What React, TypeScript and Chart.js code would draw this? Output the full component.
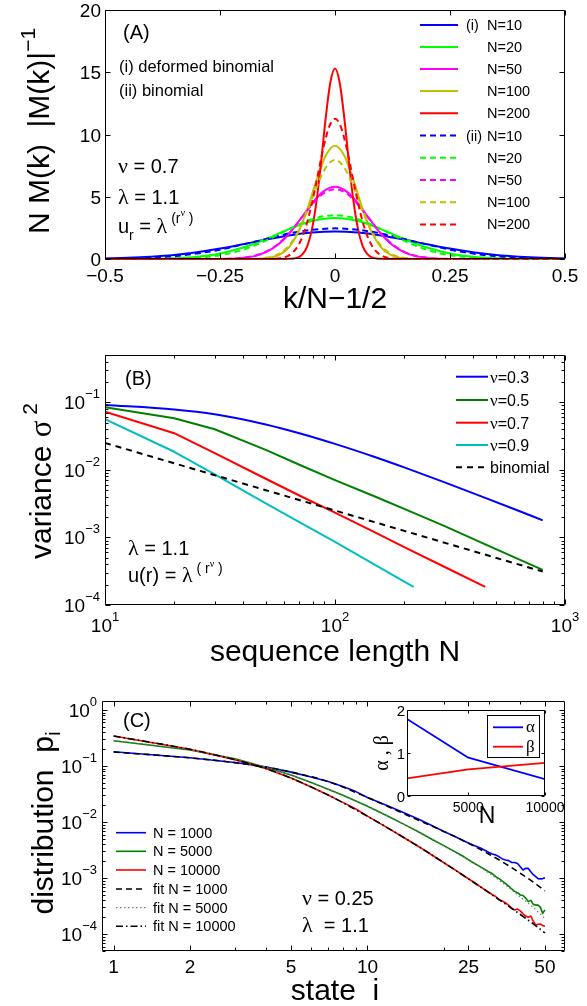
import React, { useEffect, useRef } from "react";
import { Chart, registerables } from "chart.js";

Chart.register(...registerables);

const SANS = '"Liberation Sans", Arial, Helvetica, sans-serif';
const SERIF = '"Liberation Serif", "Times New Roman", serif';
const PAGE_W = 587;
const PAGE_H = 1006;

/* ================= Panel A : N M(k)|M(k)|^-1 vs k/N-1/2 ================= */
const xA_wide = [-0.5, -0.45, -0.4, -0.35, -0.3, -0.25, -0.2, -0.15, -0.1, -0.05, 0, 0.05, 0.1, 0.15, 0.2, 0.25, 0.3, 0.35, 0.4, 0.45, 0.5];
const xA_mid = [-0.5, -0.25, -0.225, -0.2, -0.175, -0.15, -0.125, -0.1, -0.075, -0.05, -0.025, 0, 0.025, 0.05, 0.075, 0.1, 0.125, 0.15, 0.175, 0.2, 0.225, 0.25, 0.5];
const xA_narrow = [-0.5, -0.2, -0.18, -0.16, -0.14, -0.12, -0.1, -0.08, -0.06, -0.04, -0.02, 0, 0.02, 0.04, 0.06, 0.08, 0.1, 0.12, 0.14, 0.16, 0.18, 0.2, 0.5];
const xA_peak = [-0.5, -0.15, -0.14, -0.13, -0.12, -0.11, -0.1, -0.09, -0.08, -0.07, -0.06, -0.05, -0.04, -0.03, -0.02, -0.01, 0, 0.01, 0.02, 0.03, 0.04, 0.05, 0.06, 0.07, 0.08, 0.09, 0.1, 0.11, 0.12, 0.13, 0.14, 0.15, 0.5];

const defA10 = [0.05, 0.1, 0.19, 0.33, 0.55, 0.84, 1.19, 1.56, 1.89, 2.12, 2.2, 2.12, 1.89, 1.56, 1.19, 0.84, 0.55, 0.33, 0.19, 0.1, 0.05];
const defA20 = [0.001, 0.005, 0.02, 0.07, 0.19, 0.45, 0.92, 1.61, 2.4, 3.05, 3.3, 3.05, 2.4, 1.61, 0.92, 0.45, 0.19, 0.07, 0.02, 0.005, 0.001];
const defA50 = [0, 0.01, 0.03, 0.09, 0.23, 0.55, 1.12, 2.03, 3.21, 4.46, 5.43, 5.8, 5.43, 4.46, 3.21, 2.03, 1.12, 0.55, 0.23, 0.09, 0.03, 0.01, 0];
const defA100 = [0, 0.001, 0.007, 0.03, 0.11, 0.35, 0.94, 2.14, 4.03, 6.33, 8.31, 9.1, 8.31, 6.33, 4.03, 2.14, 0.94, 0.35, 0.11, 0.03, 0.007, 0.001, 0];
const defA200 = [0, 0, 0, 0, 0, 0.002, 0.01, 0.04, 0.13, 0.41, 1.06, 2.4, 4.68, 7.86, 11.4, 14.2, 15.3, 14.2, 11.4, 7.86, 4.68, 2.4, 1.06, 0.41, 0.13, 0.04, 0.01, 0.002, 0, 0, 0, 0, 0];

const binA10 = [0.01, 0.04, 0.1, 0.22, 0.44, 0.75, 1.17, 1.6, 2.05, 2.34, 2.46, 2.34, 2.05, 1.6, 1.17, 0.75, 0.44, 0.22, 0.1, 0.04, 0.01];
const binA20 = [0, 0, 0.004, 0.022, 0.092, 0.3, 0.74, 1.48, 2.4, 3.2, 3.52, 3.2, 2.4, 1.48, 0.74, 0.3, 0.092, 0.022, 0.004, 0, 0];
const binA50 = [0, 0.01, 0.035, 0.1, 0.26, 0.59, 1.17, 2.06, 3.2, 4.37, 5.27, 5.61, 5.27, 4.37, 3.2, 2.06, 1.17, 0.59, 0.26, 0.1, 0.035, 0.01, 0];
const binA100 = [0, 0.003, 0.012, 0.047, 0.16, 0.45, 1.08, 2.21, 3.88, 5.78, 7.35, 7.96, 7.35, 5.78, 3.88, 2.21, 1.08, 0.45, 0.16, 0.047, 0.012, 0.003, 0];
const binA200 = [0, 0.003, 0.009, 0.02, 0.06, 0.135, 0.29, 0.59, 1.09, 1.88, 3.02, 4.52, 6.27, 8.11, 9.73, 10.86, 11.26, 10.86, 9.73, 8.11, 6.27, 4.52, 3.02, 1.88, 1.09, 0.59, 0.29, 0.135, 0.06, 0.02, 0.009, 0.003, 0];

const legendA = ["N=10", "N=20", "N=50", "N=100", "N=200", "N=10", "N=20", "N=50", "N=100", "N=200"];
const colorsA = ["#0000ff", "#00ff00", "#ff00ff", "#bfbf00", "#ff0000"];
const ticksAx = [-0.5, -0.25, 0, 0.25, 0.5];
const labelsAx = ["\u22120.5", "\u22120.25", "0", "0.25", "0.5"];
const ticksAy = [0, 5, 10, 15, 20];
const labelsAy = ["0", "5", "10", "15", "20"];

/* ================= Panel B : variance vs sequence length ================= */
const nB_long = [10, 20, 30, 50, 70, 100, 150, 200, 300, 450, 600, 800];
const varNu03 = [0.091, 0.0782, 0.0665, 0.047, 0.0348, 0.0242, 0.01535, 0.01086, 0.00652, 0.00385, 0.00263, 0.00179];
const varNu05 = [0.0843, 0.0579, 0.0398, 0.0197, 0.0119, 0.00706, 0.00399, 0.00265, 0.00147, 0.00079, 0.00051, 0.00033];
const nB_nu07 = [10, 20, 30, 50, 70, 100, 150, 200, 300, 450];
const varNu07 = [0.0726, 0.0348, 0.0177, 0.00738, 0.00417, 0.00232, 0.00118, 0.000718, 0.000365, 0.000185];
const nB_nu09 = [10, 20, 30, 50, 70, 100, 150, 200, 220];
const varNu09 = [0.056, 0.0185, 0.0086, 0.0032, 0.00168, 0.00086, 0.00039, 0.000222, 0.000185];
const nB_bin = [10, 20, 30, 50, 100, 200, 400, 800];
const varBin = [0.025, 0.0125, 0.00833, 0.005, 0.0025, 0.00125, 0.000625, 0.0003125];

const legendBNu = ["0.3", "0.5", "0.7", "0.9"];
const ticksBx = [10, 100, 1000];
const expBx = ["1", "2", "3"];
const ticksBy = [1e-4, 1e-3, 1e-2, 1e-1];
const expBy = ["\u22124", "\u22123", "\u22122", "\u22121"];

/* ================= Panel C : distribution p_i vs state i ================= */
const iC = [1, 2, 3, 4, 5, 6, 7, 8, 9, 10, 12, 14, 16, 18, 20, 22, 24, 26, 28, 30, 31, 32, 33, 34, 35, 36, 37, 38, 39, 40, 41, 42, 43, 44, 45, 46, 47, 48, 49, 50];
const pN1000 = [0.18, 0.141, 0.116, 0.096, 0.078, 0.064, 0.053, 0.043, 0.035, 0.0275, 0.0195, 0.0145, 0.0111, 0.0086, 0.0068, 0.0056, 0.0046, 0.0039, 0.0034, 0.0029, 0.0027, 0.0026, 0.0024, 0.0022, 0.0021, 0.00205, 0.0019, 0.0019, 0.00183, 0.0016, 0.00139, 0.0015, 0.00149, 0.0013, 0.00115, 0.00106, 0.00098, 0.00097, 0.00098, 0.00101];
const pN5000 = [0.283, 0.193, 0.135, 0.0946, 0.069, 0.0507, 0.0385, 0.03, 0.0238, 0.0191, 0.0128, 0.009, 0.0066, 0.0049, 0.0038, 0.003, 0.0024, 0.0019, 0.00157, 0.0013, 0.00121, 0.00106, 0.00098, 0.00088, 0.0008, 0.00072, 0.00064, 0.00058, 0.00055, 0.0005, 0.00049, 0.00044, 0.00038, 0.0004, 0.00034, 0.00033, 0.00033, 0.0003, 0.000235, 0.00027];
const pN10000 = [0.343, 0.199, 0.13, 0.0895, 0.061, 0.0424, 0.0304, 0.0225, 0.0171, 0.0128, 0.0079, 0.0052, 0.0036, 0.00256, 0.00188, 0.00143, 0.00109, 0.00087, 0.00069, 0.00056, 0.00051, 0.00047, 0.00041, 0.00039, 0.00036, 0.00033, 0.00029, 0.00027, 0.00028, 0.00026, 0.00023, 0.00021, 0.0002, 0.00021, 0.00017, 0.000145, 0.00015, 0.000152, 0.000142, 0.000139];
const iFit = [1, 2, 3, 4, 5, 7, 10, 15, 20, 25, 30, 35, 40, 45, 50];
const fitN1000 = [0.178, 0.14, 0.115, 0.095, 0.078, 0.053, 0.0275, 0.0121, 0.0068, 0.0042, 0.0027, 0.0018, 0.00122, 0.00085, 0.00059];
const fitN5000 = [0.285, 0.194, 0.135, 0.0946, 0.069, 0.0385, 0.0191, 0.0076, 0.0037, 0.0021, 0.00125, 0.00075, 0.00046, 0.0003, 0.00019];
const fitN10000 = [0.343, 0.199, 0.13, 0.0895, 0.061, 0.0304, 0.0127, 0.0043, 0.00188, 0.00097, 0.000555, 0.000345, 0.000224, 0.000153, 0.000105];

const legendC = ["N = 1000", "N = 5000", "N = 10000", "fit N = 1000", "fit N = 5000", "fit N = 10000"];
const ticksCx = [1, 2, 5, 10, 25, 50];
const labelsCx = ["1", "2", "5", "10", "25", "50"];
const minorsCx = [3, 4, 6, 7, 8, 9, 20, 30, 40];
const ticksCy = [1e-4, 1e-3, 1e-2, 1e-1, 1];
const expCy = ["\u22124", "\u22123", "\u22122", "\u22121", "0"];

/* ================= Inset : alpha, beta vs N ================= */
const nInset = [1000, 5000, 10000];
const alphaInset = [1.79, 0.89, 0.39];
const betaInset = [0.41, 0.62, 0.77];
const ticksInX = [5000, 10000];
const labelsInX = ["5000", "10000"];
const ticksInY = [0, 1, 2];
const labelsInY = ["0", "1", "2"];

/* ================= helpers ================= */
type Part = { t: string; s: number; dy?: number; f?: string };

function setFont(ctx: CanvasRenderingContext2D, p: Part) {
  ctx.font = `${p.s}px ${p.f || SANS}`;
}
function partsWidth(ctx: CanvasRenderingContext2D, parts: Part[]) {
  let w = 0;
  for (const p of parts) {
    setFont(ctx, p);
    w += ctx.measureText(p.t).width;
  }
  return w;
}
function text(ctx: CanvasRenderingContext2D, x: number, y: number, parts: Part[], align = "left") {
  const w = partsWidth(ctx, parts);
  let cx = align === "left" ? x : align === "center" ? x - w / 2 : x - w;
  ctx.textAlign = "left";
  ctx.textBaseline = "alphabetic";
  ctx.fillStyle = "#000";
  for (const p of parts) {
    setFont(ctx, p);
    ctx.fillText(p.t, cx, y + (p.dy || 0));
    cx += ctx.measureText(p.t).width;
  }
}
function vtext(ctx: CanvasRenderingContext2D, x: number, y: number, parts: Part[]) {
  ctx.save();
  ctx.translate(x, y);
  ctx.rotate(-Math.PI / 2);
  text(ctx, 0, 0, parts, "center");
  ctx.restore();
}
function logMinors(min: number, max: number, skip: number[]) {
  const out: number[] = [];
  for (let d = Math.floor(Math.log10(min)); d <= Math.ceil(Math.log10(max)); d++) {
    for (let m = 1; m < 10; m++) {
      const v = m * Math.pow(10, d);
      if (v >= min * 0.999 && v <= max * 1.001 && !skip.some((s) => Math.abs(s - v) / v < 1e-6)) out.push(v);
    }
  }
  return out;
}
function frame(chart: any, xMaj: number[], yMaj: number[], xMin: number[], yMin: number[], L: number, l: number) {
  const { ctx, chartArea: a } = chart;
  const xs = chart.scales.x;
  const ys = chart.scales.y;
  ctx.save();
  ctx.strokeStyle = "#000";
  ctx.lineWidth = 1;
  ctx.setLineDash([]);
  const L0 = Math.round(a.left) + 0.5;
  const R0 = Math.round(a.right) - 0.5;
  const T0 = Math.round(a.top) + 0.5;
  const B0 = Math.round(a.bottom) - 0.5;
  ctx.beginPath();
  ctx.rect(L0, T0, R0 - L0, B0 - T0);
  const xt = (v: number, len: number) => {
    const p = Math.round(xs.getPixelForValue(v)) + 0.5;
    ctx.moveTo(p, B0);
    ctx.lineTo(p, B0 - len);
    ctx.moveTo(p, T0);
    ctx.lineTo(p, T0 + len);
  };
  const yt = (v: number, len: number) => {
    const p = Math.round(ys.getPixelForValue(v)) + 0.5;
    ctx.moveTo(L0, p);
    ctx.lineTo(L0 + len, p);
    ctx.moveTo(R0, p);
    ctx.lineTo(R0 - len, p);
  };
  xMaj.forEach((v) => xt(v, L));
  yMaj.forEach((v) => yt(v, L));
  xMin.forEach((v) => xt(v, l));
  yMin.forEach((v) => yt(v, l));
  ctx.stroke();
  ctx.restore();
}
function legendLine(ctx: CanvasRenderingContext2D, ds: any, x1: number, x2: number, y: number) {
  ctx.save();
  ctx.strokeStyle = ds.borderColor;
  ctx.lineWidth = ds.borderWidth;
  ctx.setLineDash(ds.borderDash || []);
  ctx.beginPath();
  ctx.moveTo(x1, y);
  ctx.lineTo(x2, y);
  ctx.stroke();
  ctx.restore();
}
function series(xv: number[], yv: number[], color: string, width: number, dash: number[], idx: number, smooth: boolean, extra: any = {}) {
  return {
    data: xv.map((x, i) => ({ x, y: yv[i] })),
    borderColor: color,
    borderWidth: width,
    borderDash: dash,
    borderJoinStyle: "round",
    pointRadius: 0,
    pointHoverRadius: 0,
    fill: false,
    tension: 0,
    cubicInterpolationMode: smooth ? "monotone" : "default",
    order: -idx,
    ...extra,
  };
}
function axis(type: string, min: number, max: number, position: string) {
  return {
    type,
    min,
    max,
    position,
    bounds: "data",
    display: true,
    grid: { display: false },
    border: { display: false },
    ticks: { display: false },
    afterFit: (s: any) => {
      if (position === "left") s.width = 0;
      else s.height = 0;
    },
  };
}
function makeChart(canvas: HTMLCanvasElement, datasets: any[], xAx: any, yAx: any, padding: any, draw: (c: any) => void, before?: (c: any) => void) {
  return new Chart(canvas, {
    type: "line",
    data: { datasets },
    options: {
      animation: false,
      responsive: false,
      maintainAspectRatio: false,
      events: [],
      layout: { padding },
      plugins: { legend: { display: false }, tooltip: { enabled: false }, title: { display: false } },
      scales: { x: xAx, y: yAx },
    } as any,
    plugins: [
      {
        id: "deco",
        beforeDatasetsDraw: (c: any) => {
          if (before) before(c);
        },
        afterDraw: (c: any) => draw(c),
      },
    ],
  } as any);
}

/* ================= chart builders ================= */
function buildA(canvas: HTMLCanvasElement) {
  const D = [6, 4];
  const datasets = [
    series(xA_wide, defA10, colorsA[0], 2, [], 0, true, { clip: false }),
    series(xA_wide, defA20, colorsA[1], 2, [], 1, true, { clip: false }),
    series(xA_mid, defA50, colorsA[2], 2, [], 2, true, { clip: false }),
    series(xA_narrow, defA100, colorsA[3], 2, [], 3, true, { clip: false }),
    series(xA_peak, defA200, colorsA[4], 2, [], 4, true, { clip: false }),
    series(xA_wide, binA10, colorsA[0], 2, D, 5, true, { clip: false }),
    series(xA_wide, binA20, colorsA[1], 2, D, 6, true, { clip: false }),
    series(xA_mid, binA50, colorsA[2], 2, D, 7, true, { clip: false }),
    series(xA_narrow, binA100, colorsA[3], 2, D, 8, true, { clip: false }),
    series(xA_peak, binA200, colorsA[4], 2, D, 9, true, { clip: false }),
  ];
  const rows = [25, 47, 69, 91, 113.3, 135.6, 157.8, 180, 202.2, 224.4];
  const draw = (chart: any) => {
    const ctx = chart.ctx;
    const xs = chart.scales.x;
    const ys = chart.scales.y;
    frame(chart, ticksAx, ticksAy, [], [], 5, 3);
    ticksAx.forEach((v, i) => text(ctx, xs.getPixelForValue(v), 282, [{ t: labelsAx[i], s: 19 }], "center"));
    ticksAy.forEach((v, i) => text(ctx, 101, ys.getPixelForValue(v) + 7, [{ t: labelsAy[i], s: 19 }], "right"));
    vtext(ctx, 49, 131, [{ t: "N M(k)  |M(k)|", s: 30 }, { t: "\u22121", s: 21, dy: -14 }]);
    text(ctx, 335, 308, [{ t: "k/N\u22121/2", s: 30 }], "center");
    text(ctx, 123, 39, [{ t: "(A)", s: 20 }]);
    text(ctx, 119, 72, [{ t: "(i) deformed binomial", s: 16.5 }]);
    text(ctx, 119, 96, [{ t: "(ii) binomial", s: 16.5 }]);
    text(ctx, 118, 173, [{ t: "\u03bd", s: 22, f: SERIF }, { t: " = 0.7", s: 20 }]);
    text(ctx, 118, 204, [{ t: "\u03bb", s: 22, f: SERIF }, { t: " = 1.1", s: 20 }]);
    text(ctx, 118, 233, [
      { t: "u", s: 20 },
      { t: "r", s: 14, dy: 7 },
      { t: " = ", s: 20 },
      { t: "\u03bb", s: 22, f: SERIF },
      { t: " (r", s: 14, dy: -10 },
      { t: "\u03bd", s: 10, f: SERIF, dy: -17 },
      { t: " )", s: 14, dy: -10 },
    ]);
    rows.forEach((y, i) => {
      legendLine(ctx, chart.data.datasets[i], 420, 458, y);
      text(ctx, 487, y + 5, [{ t: legendA[i], s: 14.5 }]);
    });
    text(ctx, 466, rows[0] + 5, [{ t: "(i)", s: 14.5 }]);
    text(ctx, 466, rows[5] + 5, [{ t: "(ii)", s: 14.5 }]);
  };
  return makeChart(canvas, datasets, axis("linear", -0.5, 0.5, "bottom"), axis("linear", 0, 20, "left"), { left: 105, right: 22, top: 10, bottom: PAGE_H - 259 }, draw);
}

function buildB(canvas: HTMLCanvasElement) {
  const datasets = [
    series(nB_long, varNu03, "#0000ff", 2, [], 0, true),
    series(nB_long, varNu05, "#008000", 2, [], 1, false),
    series(nB_nu07, varNu07, "#ff0000", 2, [], 2, false),
    series(nB_nu09, varNu09, "#00bfbf", 2, [], 3, false),
    series(nB_bin, varBin, "#000000", 2, [6, 5], 4, false),
  ];
  const rows = [376.7, 400, 422.7, 445, 467.3];
  const minX = logMinors(10, 1000, ticksBx);
  const minY = logMinors(1e-4, 0.5, ticksBy);
  const draw = (chart: any) => {
    const ctx = chart.ctx;
    const xs = chart.scales.x;
    const ys = chart.scales.y;
    frame(chart, ticksBx, ticksBy, minX, minY, 5, 3);
    ticksBx.forEach((v, i) => text(ctx, xs.getPixelForValue(v), 632, [{ t: "10", s: 19 }, { t: expBx[i], s: 13, dy: -11 }], "center"));
    ticksBy.forEach((v, i) => text(ctx, 100, ys.getPixelForValue(v) + 7, [{ t: "10", s: 19 }, { t: expBy[i], s: 13, dy: -11 }], "right"));
    vtext(ctx, 51, 481, [{ t: "variance ", s: 30 }, { t: "\u03c3", s: 31, f: SERIF }, { t: " 2", s: 21, dy: -14 }]);
    text(ctx, 335, 661, [{ t: "sequence length N", s: 30 }], "center");
    text(ctx, 125, 385, [{ t: "(B)", s: 20 }]);
    text(ctx, 128, 555, [{ t: "\u03bb", s: 22, f: SERIF }, { t: " = 1.1", s: 20 }]);
    text(ctx, 128, 582, [
      { t: "u(r) = ", s: 20 },
      { t: "\u03bb", s: 22, f: SERIF },
      { t: " ( r", s: 14, dy: -9 },
      { t: "\u03bd", s: 10, f: SERIF, dy: -15 },
      { t: " )", s: 14, dy: -9 },
    ]);
    rows.forEach((y, i) => {
      legendLine(ctx, chart.data.datasets[i], 456, 488, y);
      if (i < 4) text(ctx, 490, y + 6, [{ t: "\u03bd", s: 17, f: SERIF }, { t: "=" + legendBNu[i], s: 16 }]);
      else text(ctx, 490, y + 6, [{ t: "binomial", s: 16 }]);
    });
  };
  return makeChart(canvas, datasets, axis("logarithmic", 10, 1000, "bottom"), axis("logarithmic", 1e-4, 0.5, "left"), { left: 105, right: 22, top: 355, bottom: PAGE_H - 605 }, draw);
}

function buildC(canvas: HTMLCanvasElement) {
  const datasets = [
    series(iC, pN1000, "#0000ff", 1.6, [], 0, false),
    series(iC, pN5000, "#008000", 1.6, [], 1, false),
    series(iC, pN10000, "#ff0000", 1.6, [], 2, false),
    series(iFit, fitN1000, "#000000", 1.6, [6, 4], 3, true),
    series(iFit, fitN5000, "#777777", 1.2, [1.5, 2.5], 4, true),
    series(iFit, fitN10000, "#000000", 1.6, [7, 3, 1.5, 3], 5, true),
  ];
  const rows = [832.7, 851.3, 870, 889, 907.7, 926.3];
  const minY = logMinors(5e-5, 1.45, ticksCy);
  const draw = (chart: any) => {
    const ctx = chart.ctx;
    const xs = chart.scales.x;
    const ys = chart.scales.y;
    frame(chart, ticksCx, ticksCy, minorsCx, minY, 5, 3);
    ticksCx.forEach((v, i) => text(ctx, xs.getPixelForValue(v), 973, [{ t: labelsCx[i], s: 19 }], "center"));
    ticksCy.forEach((v, i) => text(ctx, 97, ys.getPixelForValue(v) + 7, [{ t: "10", s: 19 }, { t: expCy[i], s: 13, dy: -11 }], "right"));
    vtext(ctx, 53, 823, [{ t: "distribution  p", s: 30 }, { t: "i", s: 21, dy: 7 }]);
    text(ctx, 335, 1000, [{ t: "state  i", s: 30 }], "center");
    text(ctx, 123, 727, [{ t: "(C)", s: 20 }]);
    text(ctx, 302, 905, [{ t: "\u03bd", s: 22, f: SERIF }, { t: " = 0.25", s: 20 }]);
    text(ctx, 302, 932, [{ t: "\u03bb", s: 22, f: SERIF }, { t: "  = 1.1", s: 20 }]);
    rows.forEach((y, i) => {
      legendLine(ctx, chart.data.datasets[i], 116, 146, y);
      text(ctx, 153, y + 5, [{ t: legendC[i], s: 14.5 }]);
    });
  };
  return makeChart(canvas, datasets, axis("logarithmic", 0.9, 60, "bottom"), axis("logarithmic", 5e-5, 1.45, "left"), { left: 102, right: 22, top: 701, bottom: PAGE_H - 951 }, draw);
}

function buildInset(canvas: HTMLCanvasElement) {
  const datasets = [
    series(nInset, alphaInset, "#0000ff", 1.8, [], 0, false),
    series(nInset, betaInset, "#ff0000", 1.8, [], 1, false),
  ];
  const before = (chart: any) => {
    const { ctx, chartArea: a } = chart;
    ctx.save();
    ctx.fillStyle = "#ffffff";
    ctx.fillRect(a.left, a.top, a.right - a.left, a.bottom - a.top);
    ctx.restore();
  };
  const draw = (chart: any) => {
    const ctx = chart.ctx;
    const xs = chart.scales.x;
    const ys = chart.scales.y;
    frame(chart, ticksInX, ticksInY, [], [], 3, 2);
    ticksInX.forEach((v, i) => text(ctx, xs.getPixelForValue(v), 812, [{ t: labelsInX[i], s: 14 }], "center"));
    ticksInY.forEach((v, i) => text(ctx, 405, ys.getPixelForValue(v) + 5.5, [{ t: labelsInY[i], s: 15 }], "right"));
    text(ctx, 487, 823, [{ t: "N", s: 23 }], "center");
    vtext(ctx, 388, 753, [{ t: "\u03b1 , \u03b2", s: 20, f: SERIF }]);
    ctx.save();
    ctx.fillStyle = "#ffffff";
    ctx.fillRect(487, 715, 52, 42);
    ctx.strokeStyle = "#000";
    ctx.lineWidth = 1;
    ctx.strokeRect(487.5, 715.5, 52, 42);
    ctx.restore();
    const rows = [727.3, 746.7];
    const names = ["\u03b1", "\u03b2"];
    rows.forEach((y, i) => {
      legendLine(ctx, chart.data.datasets[i], 493, 523, y);
      text(ctx, 526, y + 5, [{ t: names[i], s: 17, f: SERIF }]);
    });
  };
  return makeChart(canvas, datasets, axis("linear", 1000, 10000, "bottom"), axis("linear", 0, 2, "left"), { left: 407, right: PAGE_W - 545, top: 710, bottom: PAGE_H - 796 }, draw, before);
}

/* ================= component ================= */
export default function App() {
  const refA = useRef<HTMLCanvasElement>(null);
  const refB = useRef<HTMLCanvasElement>(null);
  const refC = useRef<HTMLCanvasElement>(null);
  const refI = useRef<HTMLCanvasElement>(null);

  useEffect(() => {
    const charts: any[] = [];
    if (refA.current) charts.push(buildA(refA.current));
    if (refB.current) charts.push(buildB(refB.current));
    if (refC.current) charts.push(buildC(refC.current));
    if (refI.current) charts.push(buildInset(refI.current));
    return () => charts.forEach((c) => c.destroy());
  }, []);

  const cs: React.CSSProperties = { position: "absolute", left: 0, top: 0, width: PAGE_W, height: PAGE_H };
  return (
    <div style={{ position: "absolute", left: 0, top: 0, width: PAGE_W, height: PAGE_H, background: "#ffffff", overflow: "hidden" }}>
      <canvas ref={refA} width={PAGE_W} height={PAGE_H} style={cs} />
      <canvas ref={refB} width={PAGE_W} height={PAGE_H} style={cs} />
      <canvas ref={refC} width={PAGE_W} height={PAGE_H} style={cs} />
      <canvas ref={refI} width={PAGE_W} height={PAGE_H} style={cs} />
    </div>
  );
}
